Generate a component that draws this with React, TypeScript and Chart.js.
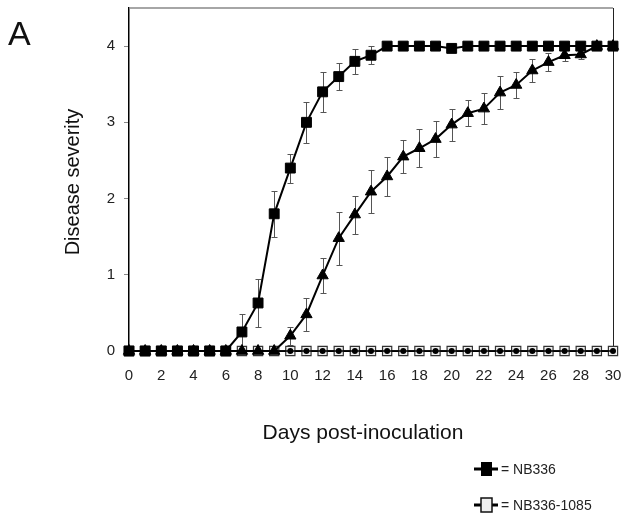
import React, { useEffect, useRef } from "react";
import { Chart, registerables } from "chart.js";

Chart.register(...registerables);

const days = [0, 1, 2, 3, 4, 5, 6, 7, 8, 9, 10, 11, 12, 13, 14, 15, 16, 17, 18, 19, 20, 21, 22, 23, 24, 25, 26, 27, 28, 29, 30];
const nb336 = [0, 0, 0, 0, 0, 0, 0, 0.25, 0.63, 1.8, 2.4, 3.0, 3.4, 3.6, 3.8, 3.88, 4, 4, 4, 4, 3.97, 4, 4, 4, 4, 4, 4, 4, 4, 4, 4];
const nb336Err = [0, 0, 0, 0, 0, 0, 0, 0.23, 0.32, 0.3, 0.19, 0.27, 0.26, 0.18, 0.16, 0.12, 0, 0, 0, 0, 0, 0, 0, 0, 0, 0, 0, 0, 0, 0, 0];
const triangleSeries = [0, 0, 0, 0, 0, 0, 0, 0, 0, 0, 0.2, 0.48, 0.99, 1.48, 1.79, 2.09, 2.29, 2.55, 2.66, 2.78, 2.97, 3.12, 3.18, 3.39, 3.49, 3.68, 3.79, 3.88, 3.89, 4, 4];
const triangleErr = [0, 0, 0, 0, 0, 0, 0, 0, 0, 0, 0.12, 0.22, 0.23, 0.35, 0.25, 0.28, 0.26, 0.22, 0.25, 0.24, 0.21, 0.17, 0.2, 0.22, 0.17, 0.15, 0.12, 0.07, 0.06, 0, 0];
const circleSeries = [0, 0, 0, 0, 0, 0, 0, 0, 0, 0, 0, 0, 0, 0, 0, 0, 0, 0, 0, 0, 0, 0, 0, 0, 0, 0, 0, 0, 0, 0, 0];
const nb336_1085 = [0, 0, 0, 0, 0, 0, 0, 0, 0, 0, 0, 0, 0, 0, 0, 0, 0, 0, 0, 0, 0, 0, 0, 0, 0, 0, 0, 0, 0, 0, 0];
const yTickValues = [0, 1, 2, 3, 4];
const xTickValues = [0, 2, 4, 6, 8, 10, 12, 14, 16, 18, 20, 22, 24, 26, 28, 30];

const panelLabel = "A";
const xTitle = "Days post-inoculation";
const yTitle = "Disease severity";
const legendLabels = ["= NB336", "= NB336-1085"];

const FONT = '"Liberation Sans", Arial, sans-serif';

export default function App() {
  const ref = useRef<HTMLCanvasElement>(null);

  useEffect(() => {
    document.body.style.margin = "0";
    const canvas = ref.current!;
    const toPts = (ys: number[]) => days.map((d, i) => ({ x: d, y: ys[i] }));

    const errorBars = {
      id: "errorBars",
      beforeDatasetsDraw(chart: any) {
        const { ctx, scales } = chart;
        const x = scales.x;
        const y = scales.y;
        ctx.save();
        ctx.strokeStyle = "#555";
        ctx.lineWidth = 1;
        const draw = (vals: number[], errs: number[]) => {
          days.forEach((d, i) => {
            const e = errs[i];
            if (!e) return;
            const px = Math.round(x.getPixelForValue(d)) + 0.5;
            const top = Math.round(y.getPixelForValue(vals[i] + e)) + 0.5;
            const bot = Math.round(y.getPixelForValue(Math.max(0, vals[i] - e))) + 0.5;
            ctx.beginPath();
            ctx.moveTo(px, top);
            ctx.lineTo(px, bot);
            ctx.moveTo(px - 3, top);
            ctx.lineTo(px + 3, top);
            ctx.moveTo(px - 3, bot);
            ctx.lineTo(px + 3, bot);
            ctx.stroke();
          });
        };
        draw(nb336, nb336Err);
        draw(triangleSeries, triangleErr);
        ctx.restore();
      },
    };

    const frame = {
      id: "frame",
      beforeDatasetsDraw(chart: any) {
        const { ctx, chartArea: a } = chart;
        ctx.save();
        ctx.strokeStyle = "#888";
        ctx.lineWidth = 1.5;
        ctx.beginPath();
        ctx.moveTo(a.left, a.top);
        ctx.lineTo(a.right, a.top);
        ctx.stroke();
        ctx.strokeStyle = "#222";
        ctx.lineWidth = 1;
        ctx.beginPath();
        ctx.moveTo(a.right + 0.5, a.top);
        ctx.lineTo(a.right + 0.5, a.bottom);
        ctx.stroke();
        ctx.restore();
      },
    };

    const texts = {
      id: "texts",
      afterDraw(chart: any) {
        const { ctx } = chart;
        ctx.save();
        ctx.fillStyle = "#111";
        ctx.textBaseline = "alphabetic";
        ctx.textAlign = "left";
        ctx.font = `34px ${FONT}`;
        ctx.fillText(panelLabel, 8, 45);

        ctx.font = `21px ${FONT}`;
        ctx.textAlign = "center";
        ctx.textBaseline = "middle";
        ctx.fillText(xTitle, 363, 433);

        ctx.save();
        ctx.translate(73, 182);
        ctx.rotate(-Math.PI / 2);
        ctx.font = `20px ${FONT}`;
        ctx.fillText(yTitle, 0, 0);
        ctx.restore();

        // legend
        const rows = [469, 505];
        rows.forEach((ry, i) => {
          ctx.strokeStyle = "#000";
          ctx.lineWidth = 3;
          ctx.beginPath();
          ctx.moveTo(474, ry);
          ctx.lineTo(498, ry);
          ctx.stroke();
          if (i === 0) {
            ctx.fillStyle = "#000";
            ctx.fillRect(481, ry - 7, 11, 14);
          } else {
            ctx.fillStyle = "#eee";
            ctx.fillRect(481, ry - 7, 11, 14);
            ctx.lineWidth = 1.5;
            ctx.strokeStyle = "#111";
            ctx.strokeRect(481, ry - 7, 11, 14);
          }
          ctx.fillStyle = "#222";
          ctx.font = `14px ${FONT}`;
          ctx.textAlign = "left";
          ctx.textBaseline = "middle";
          ctx.fillText(legendLabels[i], 501, ry + 1);
        });
        ctx.restore();
      },
    };

    const zeroPad = (s: any) => {
      s.paddingTop = 0;
      s.paddingBottom = 0;
      s.paddingLeft = 0;
      s.paddingRight = 0;
    };

    const chart = new Chart(canvas, {
      type: "line",
      data: {
        datasets: [
          {
            label: "NB336",
            data: toPts(nb336),
            borderColor: "#000",
            backgroundColor: "#000",
            borderWidth: 2,
            pointStyle: "rect",
            pointRadius: 7,
            pointBorderWidth: 1,
            pointBackgroundColor: "#000",
            pointBorderColor: "#000",
            tension: 0,
            clip: false,
          },
          {
            label: "triangle series",
            data: toPts(triangleSeries),
            borderColor: "#000",
            backgroundColor: "#000",
            borderWidth: 2,
            pointStyle: "triangle",
            pointRadius: 6.5,
            pointBorderWidth: 1,
            pointBackgroundColor: "#000",
            pointBorderColor: "#000",
            tension: 0,
            clip: false,
          },
          {
            label: "circle series",
            data: toPts(circleSeries),
            borderColor: "#000",
            backgroundColor: "#000",
            borderWidth: 1.5,
            pointStyle: "circle",
            pointRadius: 3,
            pointBorderWidth: 0,
            pointBackgroundColor: "#000",
            tension: 0,
            clip: false,
          },
          {
            label: "NB336-1085",
            data: toPts(nb336_1085),
            borderColor: "#000",
            backgroundColor: "#eee",
            borderWidth: 1.5,
            pointStyle: "rect",
            pointRadius: 6.5,
            pointBorderWidth: 1.2,
            pointBackgroundColor: "#eee",
            pointBorderColor: "#333",
            tension: 0,
            clip: false,
          },
        ],
      },
      options: {
        animation: false,
        responsive: false,
        events: [],
        layout: { padding: { left: 0, top: 7, right: 10, bottom: 0 } },
        plugins: { legend: { display: false }, tooltip: { enabled: false } },
        scales: {
          x: {
            type: "linear",
            min: 0,
            max: 30,
            afterFit: (s: any) => {
              s.height = 176;
              zeroPad(s);
            },
            afterBuildTicks: (s: any) => {
              s.ticks = xTickValues.map((v) => ({ value: v }));
            },
            grid: { display: false, drawTicks: false },
            border: { display: true, color: "#000", width: 1 },
            ticks: {
              padding: 16,
              color: "#222",
              font: { family: FONT, size: 15 },
              maxRotation: 0,
              autoSkip: false,
            },
          },
          y: {
            type: "linear",
            min: 0,
            max: 4.5,
            afterFit: (s: any) => {
              s.width = 129;
              zeroPad(s);
            },
            afterBuildTicks: (s: any) => {
              s.ticks = yTickValues.map((v) => ({ value: v }));
            },
            grid: { display: true, drawOnChartArea: false, drawTicks: true, tickLength: 5, color: "#888" },
            border: { display: true, color: "#000", width: 1.5 },
            ticks: {
              padding: 9,
              color: "#222",
              font: { family: FONT, size: 15 },
            },
          },
        },
      },
      plugins: [frame, errorBars, texts],
    });

    return () => chart.destroy();
  }, []);

  return (
    <div style={{ position: "absolute", left: 0, top: 0, width: 623, height: 527, background: "#fff" }}>
      <canvas ref={ref} width={623} height={527} />
    </div>
  );
}
